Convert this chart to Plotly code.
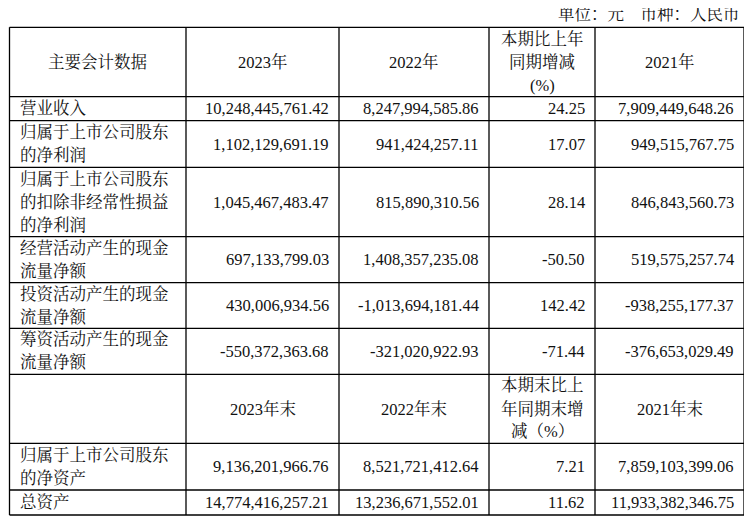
import plotly.graph_objects as go

unit_text = "单位：元　币种：人民币"
header1 = ["主要会计数据", "2023年", "2022年", "本期比上年\n同期增减\n(%)", "2021年"]
header2 = ["", "2023年末", "2022年末", "本期末比上\n年同期末增\n减（%）", "2021年末"]
labels1 = ["营业收入", "归属于上市公司股东\n的净利润", "归属于上市公司股东\n的扣除非经常性损益\n的净利润",
           "经营活动产生的现金\n流量净额", "投资活动产生的现金\n流量净额", "筹资活动产生的现金\n流量净额"]
v2023 = ["10,248,445,761.42", "1,102,129,691.19", "1,045,467,483.47", "697,133,799.03", "430,006,934.56", "-550,372,363.68"]
v2022 = ["8,247,994,585.86", "941,424,257.11", "815,890,310.56", "1,408,357,235.08", "-1,013,694,181.44", "-321,020,922.93"]
chg = ["24.25", "17.07", "28.14", "-50.50", "142.42", "-71.44"]
v2021 = ["7,909,449,648.26", "949,515,767.75", "846,843,560.73", "519,575,257.74", "-938,255,177.37", "-376,653,029.49"]
labels2 = ["归属于上市公司股东\n的净资产", "总资产"]
e2023 = ["9,136,201,966.76", "14,774,416,257.21"]
e2022 = ["8,521,721,412.64", "13,236,671,552.01"]
echg = ["7.21", "11.62"]
e2021 = ["7,859,103,399.06", "11,933,382,346.75"]

W, H = 752, 522
OFF = 8  # default page body margin
cols = [9.5, 186, 339, 489, 595, 744]
rows = [27.3, 96.7, 120.7, 167.3, 236.7, 282.7, 328.3, 374.3, 443.3, 490, 515]
FONT = "Liberation Serif, Noto Serif CJK SC, Noto Sans CJK SC, serif"
FS = 16.5
LH = 23

fig = go.Figure()
shapes, ann = [], []

def txt(x, y, s, anchor):
    ann.append(dict(x=x, y=y, text=s, showarrow=False, xanchor=anchor, yanchor="middle",
                    font=dict(family=FONT, size=FS, color="#111")))

def cell(text, ci, ri, align):
    lines = text.split("\n") if text else []
    y0, y1 = rows[ri], rows[ri + 1]
    yc = (y0 + y1) / 2
    n = len(lines)
    for k, ln in enumerate(lines):
        y = yc + (k - (n - 1) / 2) * LH
        if align == "left":
            txt(cols[ci] + 8, y, ln, "left")
        elif align == "right":
            txt(cols[ci + 1] - 8, y, ln, "right")
        else:
            txt((cols[ci] + cols[ci + 1]) / 2, y, ln, "center")

table_rows = [(header1, True)]
for i in range(len(labels1)):
    table_rows.append(([labels1[i], v2023[i], v2022[i], chg[i], v2021[i]], False))
table_rows.append((header2, True))
for i in range(len(labels2)):
    table_rows.append(([labels2[i], e2023[i], e2022[i], echg[i], e2021[i]], False))

for ri, (vals, is_head) in enumerate(table_rows):
    for ci, v in enumerate(vals):
        if is_head:
            cell(v, ci, ri, "center")
        else:
            cell(v, ci, ri, "left" if ci == 0 else "right")

for y in rows:
    shapes.append(dict(type="line", x0=cols[0], x1=cols[-1], y0=y, y1=y, line=dict(color="#000", width=1.3)))
for x in cols:
    shapes.append(dict(type="line", x0=x, x1=x, y0=rows[0], y1=rows[-1], line=dict(color="#000", width=1.3)))

txt(742, 14, unit_text, "right")

fig.update_layout(width=W - OFF, height=H - OFF, margin=dict(l=0, r=0, t=0, b=0),
                  paper_bgcolor="white", plot_bgcolor="white",
                  xaxis=dict(range=[OFF, W], visible=False, fixedrange=True),
                  yaxis=dict(range=[H, OFF], visible=False, fixedrange=True),
                  shapes=shapes, annotations=ann, showlegend=False)
fig.write_html("out.html", config={"displayModeBar": False})
